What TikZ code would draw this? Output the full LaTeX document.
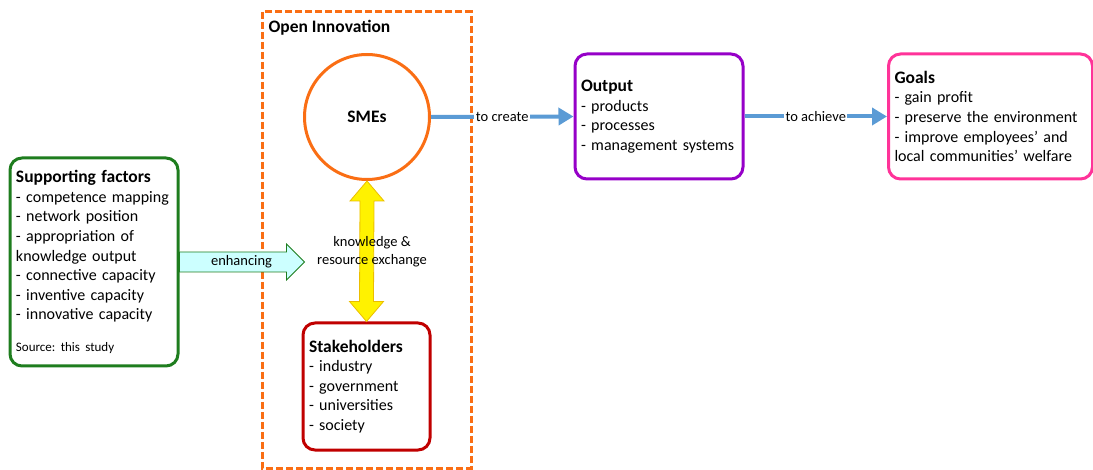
\documentclass[tikz,border=0pt]{standalone}
\usepackage{fontspec}
\setmainfont{Carlito}
\usetikzlibrary{arrows.meta,calc}
\definecolor{sfgreen}{RGB}{30,125,30}
\definecolor{oiorange}{RGB}{250,110,20}
\definecolor{stred}{RGB}{192,0,0}
\definecolor{outpurple}{RGB}{150,0,200}
\definecolor{goalpink}{RGB}{255,51,153}
\definecolor{flowblue}{RGB}{91,155,213}
\definecolor{enhfill}{RGB}{204,255,255}
\definecolor{yedge}{RGB}{235,190,0}
\newcommand{\ttl}[1]{{\fontsize{17.5}{19.6}\selectfont\bfseries #1}}
\tikzset{
  box/.style={draw, line width=3pt, rounded corners=12pt, align=left, inner xsep=6pt, inner ysep=4pt,
    font=\fontsize{16}{19.6}\selectfont},
  flow/.style={draw=flowblue, line width=4pt, -{Triangle[length=15pt,width=17pt]}},
  flowlabel/.style={fill=white, inner sep=1.5pt, font=\fontsize{14.5}{16}\selectfont},
}
\begin{document}
\frenchspacing
\begin{tikzpicture}[x=1pt,y=-1pt]
\useasboundingbox (0,0) rectangle (1093,470);
% open innovation frame
\draw[oiorange, line width=3pt, dash pattern=on 7pt off 3pt] (262,12) rectangle (471,468);
\node[anchor=west, font=\fontsize{17.5}{19}\selectfont\bfseries] (oi) at (265,28) {Open Innovation};
% SMEs
\node[circle, draw=oiorange, line width=3pt, minimum size=125pt, font=\fontsize{17.5}{19}\selectfont\bfseries] (smes) at (367,117) {SMEs};
% stakeholders
\node[box, draw=stred, text width=115pt, minimum height=127pt] (stk) at (366.5,386.5)
  {\ttl{Stakeholders}\\- industry\\- government\\- universities\\- society};
% supporting factors
\node[box, draw=sfgreen, text width=156pt, minimum height=208pt] (sf) at (94,262)
  {\ttl{Supporting factors}\\- competence mapping\\- network position\\- appropriation of\\knowledge output\\- connective capacity\\- inventive capacity\\- innovative capacity\\[12pt]{\fontsize{13}{15}\selectfont Source: this study}};
% output
\node[box, draw=outpurple, text width=156pt, minimum height=125pt] (out) at (659,116.5)
  {\ttl{Output}\\- products\\- processes\\- management systems};
% goals
\node[box, draw=goalpink, text width=192pt, minimum height=125pt] (goals) at (990.5,116.5)
  {\ttl{Goals}\\- gain profit\\- preserve the environment\\- improve employees’ and\\local communities’ welfare};
% enhancing arrow
\begin{scope}[shift={(sf.east)}]
\draw[sfgreen, fill=enhfill, line width=0.8pt] (0,-10) -- (107,-10) -- (107,-18) -- (125,0) -- (107,18) -- (107,10) -- (0,10) -- cycle;
\node[font=\fontsize{14.5}{16}\selectfont] (enh) at (62,0) {enhancing};
\end{scope}
% yellow double arrow
\coordinate (ya) at (smes.south);
\coordinate (yb) at (stk.north);
\draw[yedge, fill=yellow, line width=0.8pt]
  (ya) -- ($(ya)+(17,20)$) -- ($(ya)+(7,20)$) -- ($(yb)+(7,-20)$) -- ($(yb)+(17,-20)$) -- (yb)
  -- ($(yb)+(-17,-20)$) -- ($(yb)+(-7,-20)$) -- ($(ya)+(-7,20)$) -- ($(ya)+(-17,20)$) -- cycle;
\node[align=center, font=\fontsize{14.5}{18}\selectfont] (kre) at (372,252) {knowledge \&\\resource exchange};
% flows
\draw[flow] (smes.east) -- node[flowlabel] {to create} (out.west);
\draw[flow] (out.east) -- node[flowlabel] {to achieve} (goals.west);
\end{tikzpicture}
\end{document}
